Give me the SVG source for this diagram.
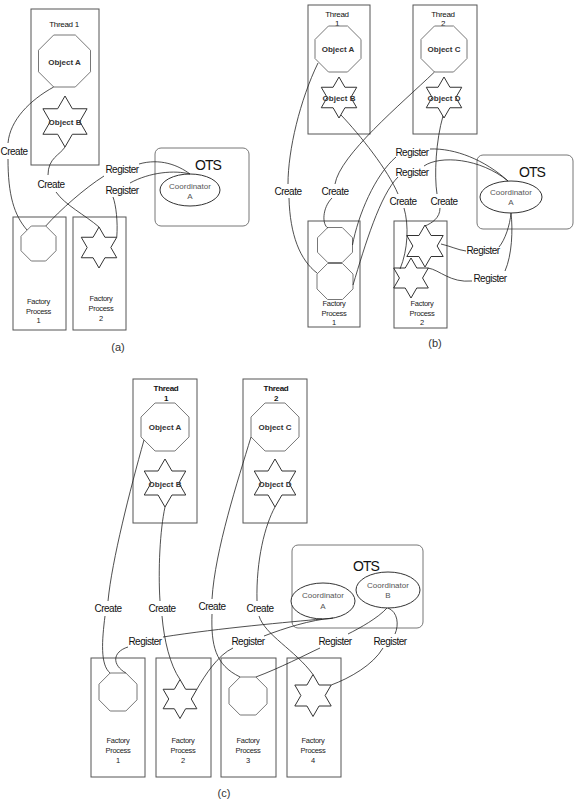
<svg xmlns="http://www.w3.org/2000/svg" width="576" height="808" viewBox="0 0 576 808">
<style>
text{font-family:"Liberation Sans",Arial,sans-serif;text-anchor:middle}
.box{fill:none;stroke:#555;stroke-width:1}
.ots{fill:none;stroke:#777;stroke-width:1}
.oct{fill:none;stroke:#777;stroke-width:1}
.star{fill:none;stroke:#333;stroke-width:1}
.coord{fill:#fff;stroke:#333;stroke-width:1}
.cn path{fill:none;stroke:#222;stroke-width:0.8}
.lbl{font-size:10px;letter-spacing:-0.5px;fill:#111}
.obj{font-size:8px;font-weight:bold;fill:#333}
.thr{font-size:8px;letter-spacing:-0.3px;fill:#111}
.fac{font-size:7.5px;letter-spacing:-0.3px;fill:#222}
.co{font-size:8px;fill:#555}
.otst{font-size:14px;letter-spacing:-1px;fill:#111}
.cap{font-size:11px;fill:#333}
</style>
<rect width="576" height="808" fill="#fff"/>

<!-- ================= PANEL (a) ================= -->
<g id="a-thread1">
<rect class="box" x="31" y="9" width="68" height="156"/>
<text class="thr" x="64" y="27">Thread 1</text>
</g>
<g id="a-objA">
<polygon class="oct" points="53.7,35 75.3,35 90.5,50.2 90.5,71.8 75.3,87 53.7,87 38.5,71.8 38.5,50.2"/>
<text class="obj" x="64.5" y="65">Object A</text>
</g>
<g id="a-objB">
<polygon class="star" points="65,96 72.36,108.75 87.08,108.75 79.72,121.5 87.08,134.25 72.36,134.25 65,147 57.64,134.25 42.92,134.25 50.28,121.5 42.92,108.75 57.64,108.75"/>
<text class="obj" x="65" y="125">Object B</text>
</g>
<g id="a-fp1">
<rect class="box" x="13" y="217" width="53" height="113"/>
<polygon class="oct" points="31.25,226 45.75,226 56,236.25 56,250.75 45.75,261 31.25,261 21,250.75 21,236.25"/>
<text class="fac" x="38.5" y="304">Factory</text>
<text class="fac" x="38.5" y="314">Process</text>
<text class="fac" x="38.5" y="323">1</text>
</g>
<g id="a-fp2">
<rect class="box" x="73" y="217" width="53" height="113"/>
<polygon class="star" points="99,227 104.92,237.25 116.75,237.25 110.83,247.5 116.75,257.75 104.92,257.75 99,268 93.08,257.75 81.25,257.75 87.17,247.5 81.25,237.25 93.08,237.25"/>
<text class="fac" x="101" y="301">Factory</text>
<text class="fac" x="101" y="311">Process</text>
<text class="fac" x="101" y="321">2</text>
</g>
<g id="a-ots">
<rect class="ots" x="155" y="148" width="94" height="78" rx="6"/>
<text class="otst" x="208" y="170">OTS</text>
<ellipse class="coord" cx="190" cy="190" rx="30" ry="16"/>
<text class="co" x="190" y="189">Coordinator</text>
<text class="co" x="190" y="199">A</text>
</g>
<g id="a-connectors" class="cn">
<path d="M53.7,87 C30,100 10,120 8,143"/>
<path d="M8,159 C8,195 14,215 27,230"/>
<path d="M65,147 C60,155 48,158 48,175"/>
<path d="M56,192 C65,205 85,215 99,227"/>
<path d="M45.75,226 C60,210 85,188 104,176"/>
<path d="M139,164 C160,158 178,165 190,174"/>
<path d="M116.75,237.25 C118,222 116,205 113,197"/>
<path d="M130,183 C150,172 175,170 190,174"/>
</g>
<g id="a-labels">
<text class="lbl" x="14" y="154.5">Create</text>
<text class="lbl" x="51" y="187.5">Create</text>
<text class="lbl" x="122" y="172.5">Register</text>
<text class="lbl" x="122" y="193.5">Register</text>
<text class="cap" x="118" y="351">(a)</text>
</g>

<!-- ================= PANEL (b) ================= -->
<g id="b-thread1">
<rect class="box" x="308" y="5" width="62" height="129"/>
<text class="thr" x="337" y="17">Thread</text>
<text class="thr" x="337" y="26">1</text>
</g>
<g id="b-thread2">
<rect class="box" x="413" y="5" width="64" height="129"/>
<text class="thr" x="443" y="17">Thread</text>
<text class="thr" x="443" y="26">2</text>
</g>
<g id="b-objA">
<polygon class="oct" points="328.48,26 347.52,26 361,39.48 361,58.52 347.52,72 328.48,72 315,58.52 315,39.48"/>
<text class="obj" x="338" y="52">Object A</text>
</g>
<g id="b-objB">
<polygon class="star" points="339,77 344.92,87.25 356.75,87.25 350.83,97.5 356.75,107.75 344.92,107.75 339,118 333.08,107.75 321.25,107.75 327.17,97.5 321.25,87.25 333.08,87.25"/>
<text class="obj" x="339" y="101">Object B</text>
</g>
<g id="b-objC">
<polygon class="oct" points="434.48,26 453.52,26 467,39.48 467,58.52 453.52,72 434.48,72 421,58.52 421,39.48"/>
<text class="obj" x="444" y="52">Object C</text>
</g>
<g id="b-objD">
<polygon class="star" points="444,77 449.92,87.25 461.75,87.25 455.83,97.5 461.75,107.75 449.92,107.75 444,118 438.08,107.75 426.25,107.75 432.17,97.5 426.25,87.25 438.08,87.25"/>
<text class="obj" x="444" y="101">Object D</text>
</g>
<g id="b-fp1">
<rect class="box" x="308" y="221" width="52" height="106"/>
<polygon class="oct" points="327.75,227.5 342.25,227.5 352.5,237.75 352.5,252.25 342.25,262.5 327.75,262.5 317.5,252.25 317.5,237.75"/>
<polygon class="oct" points="327.55,263.5 342.45,263.5 353,274.05 353,288.95 342.45,299.5 327.55,299.5 317,288.95 317,274.05"/>
<text class="fac" x="334" y="306">Factory</text>
<text class="fac" x="334" y="316">Process</text>
<text class="fac" x="334" y="325">1</text>
</g>
<g id="b-fp2">
<rect class="box" x="394" y="221" width="53" height="107"/>
<polygon class="star" points="425,225 431.06,235.5 443.19,235.5 437.12,246 443.19,256.5 431.06,256.5 425,267 418.94,256.5 406.81,256.5 412.88,246 406.81,235.5 418.94,235.5"/>
<polygon class="star" points="411,258 416.77,268 428.32,268 422.55,278 428.32,288 416.77,288 411,298 405.23,288 393.68,288 399.45,278 393.68,268 405.23,268"/>
<text class="fac" x="422" y="306">Factory</text>
<text class="fac" x="422" y="316">Process</text>
<text class="fac" x="422" y="325">2</text>
</g>
<g id="b-ots">
<rect class="ots" x="477" y="155" width="96" height="74" rx="6"/>
<text class="otst" x="532" y="177">OTS</text>
<ellipse class="coord" cx="511" cy="197" rx="31" ry="16"/>
<text class="co" x="511" y="195">Coordinator</text>
<text class="co" x="511" y="205">A</text>
</g>
<g id="b-connectors" class="cn">
<path d="M318,63 C300,100 288,150 288,184"/>
<path d="M289,198 C290,235 300,260 317,273"/>
<path d="M434.5,72 C400,105 340,155 335,184"/>
<path d="M332,198 C322,208 322,225 328,228"/>
<path d="M341,115 C360,135 388,170 398,194"/>
<path d="M404,208 C409,225 408,250 400,269"/>
<path d="M443,116 C436,140 434,175 437,194"/>
<path d="M440,208 C440,218 432,223 425,226"/>
<path d="M352.5,245 C358,215 375,175 396,157"/>
<path d="M430,149 C455,148 485,160 508,181"/>
<path d="M353,285 C365,245 380,195 398,177"/>
<path d="M424,166 C440,155 480,158 508,181"/>
<path d="M441,244 C450,246 458,250 466,251"/>
<path d="M499,247 C505,240 510,225 511,213"/>
<path d="M428,268 C440,270 450,283 472,281"/>
<path d="M505,271 C512,255 513,230 511,213"/>
</g>
<g id="b-labels">
<text class="lbl" x="288" y="194.5">Create</text>
<text class="lbl" x="335" y="194.5">Create</text>
<text class="lbl" x="403" y="204.5">Create</text>
<text class="lbl" x="444" y="204.5">Create</text>
<text class="lbl" x="412" y="155.5">Register</text>
<text class="lbl" x="412" y="175.5">Register</text>
<text class="lbl" x="483" y="253.5">Register</text>
<text class="lbl" x="490" y="281.5">Register</text>
<text class="cap" x="435" y="347">(b)</text>
</g>

<!-- ================= PANEL (c) ================= -->
<g id="c-thread1">
<rect class="box" x="133" y="379" width="64" height="144"/>
<text class="thr" x="166" y="391" font-weight="bold">Thread</text>
<text class="thr" x="166" y="401" font-weight="bold">1</text>
</g>
<g id="c-thread2">
<rect class="box" x="243" y="379" width="64" height="144"/>
<text class="thr" x="276" y="391" font-weight="bold">Thread</text>
<text class="thr" x="276" y="401" font-weight="bold">2</text>
</g>
<g id="c-objA">
<polygon class="oct" points="155.06,403 174.94,403 189,417.06 189,436.94 174.94,451 155.06,451 141,436.94 141,417.06"/>
<text class="obj" x="165" y="430">Object A</text>
</g>
<g id="c-objB">
<polygon class="star" points="165,459 171.93,471 185.78,471 178.86,483 185.78,495 171.93,495 165,507 158.07,495 144.22,495 151.14,483 144.22,471 158.07,471"/>
<text class="obj" x="165" y="487">Object B</text>
</g>
<g id="c-objC">
<polygon class="oct" points="265.06,403 284.94,403 299,417.06 299,436.94 284.94,451 265.06,451 251,436.94 251,417.06"/>
<text class="obj" x="275" y="430">Object C</text>
</g>
<g id="c-objD">
<polygon class="star" points="275,459 281.93,471 295.78,471 288.86,483 295.78,495 281.93,495 275,507 268.07,495 254.22,495 261.14,483 254.22,471 268.07,471"/>
<text class="obj" x="275" y="487">Object D</text>
</g>
<g id="c-ots">
<rect class="ots" x="292" y="545" width="131" height="83" rx="6"/>
<text class="otst" x="366" y="571">OTS</text>
<ellipse class="coord" cx="323" cy="601" rx="32" ry="18"/>
<text class="co" x="323" y="598">Coordinator</text>
<text class="co" x="323" y="609">A</text>
<ellipse class="coord" cx="388" cy="590" rx="32" ry="18"/>
<text class="co" x="388" y="588">Coordinator</text>
<text class="co" x="388" y="598">B</text>
</g>
<g id="c-fp1">
<rect class="box" x="91" y="658" width="54" height="119"/>
<polygon class="oct" points="110.13,673 125.87,673 137,684.13 137,699.87 125.87,711 110.13,711 99,699.87 99,684.13"/>
<text class="fac" x="118" y="743">Factory</text>
<text class="fac" x="118" y="753">Process</text>
<text class="fac" x="118" y="763">1</text>
</g>
<g id="c-fp2">
<rect class="box" x="156" y="658" width="55" height="119"/>
<polygon class="star" points="180,679.5 185.63,689.25 196.89,689.25 191.26,699 196.89,708.75 185.63,708.75 180,718.5 174.37,708.75 163.11,708.75 168.74,699 163.11,689.25 174.37,689.25"/>
<text class="fac" x="183" y="743">Factory</text>
<text class="fac" x="183" y="753">Process</text>
<text class="fac" x="183" y="763">2</text>
</g>
<g id="c-fp3">
<rect class="box" x="221" y="658" width="55" height="119"/>
<polygon class="oct" points="240.13,677 255.87,677 267,688.13 267,703.87 255.87,715 240.13,715 229,703.87 229,688.13"/>
<text class="fac" x="248" y="743">Factory</text>
<text class="fac" x="248" y="753">Process</text>
<text class="fac" x="248" y="763">3</text>
</g>
<g id="c-fp4">
<rect class="box" x="287" y="658" width="54" height="119"/>
<polygon class="star" points="313,674.5 319.06,685 331.19,685 325.12,695.5 331.19,706 319.06,706 313,716.5 306.94,706 294.81,706 300.88,695.5 294.81,685 306.94,685"/>
<text class="fac" x="313" y="743">Factory</text>
<text class="fac" x="313" y="753">Process</text>
<text class="fac" x="313" y="763">4</text>
</g>
<g id="c-connectors" class="cn">
<path d="M144,440 C130,490 112,560 108,601"/>
<path d="M105,616 C102,640 100,665 110.13,673"/>
<path d="M165,507 C160,530 158,570 160,601"/>
<path d="M162,616 C164,640 170,665 180,679.5"/>
<path d="M251,437 C238,480 215,550 212,599"/>
<path d="M212,614 C211,645 215,665 240.13,677"/>
<path d="M275,507 C265,525 256,560 257,601"/>
<path d="M259,616 C265,635 295,650 313,674.5"/>
<path d="M125.87,673 C112,665 112,652 128,647"/>
<path d="M163,637 C220,628 290,622 322,619"/>
<path d="M196.89,689.25 C205,675 218,655 233,648"/>
<path d="M264,636 C285,628 310,620 333,618"/>
<path d="M255.87,677 C280,668 305,655 320,648"/>
<path d="M348,634 C360,628 378,618 387,608"/>
<path d="M331.19,685 C350,678 373,665 383,648"/>
<path d="M395,634 C399,625 398,612 388,608"/>
</g>
<g id="c-labels">
<text class="lbl" x="108" y="611.5">Create</text>
<text class="lbl" x="162" y="611.5">Create</text>
<text class="lbl" x="212" y="609.5">Create</text>
<text class="lbl" x="260" y="611.5">Create</text>
<text class="lbl" x="145" y="644.5">Register</text>
<text class="lbl" x="248" y="644.5">Register</text>
<text class="lbl" x="335" y="644.5">Register</text>
<text class="lbl" x="390" y="644.5">Register</text>
<text class="cap" x="224" y="797">(c)</text>
</g>
</svg>
